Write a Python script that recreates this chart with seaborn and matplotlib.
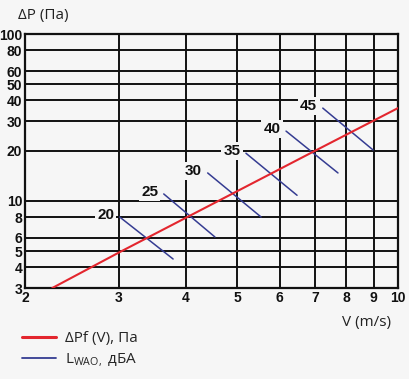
import numpy as np
import pandas as pd
import matplotlib
matplotlib.use('Agg')
import matplotlib.pyplot as plt
import seaborn as sns
from matplotlib.lines import Line2D

# Pressure drop line dP(V)
v_red = [2.25, 3.0, 7.0, 10.0]
dp_red = [3.0, 4.9, 20.0, 36.0]

# Noise level lines L_WAO (start, end)
levels = [20, 25, 30, 35, 40, 45]
v_start = [3.01, 3.64, 4.40, 5.19, 6.17, 7.23]
dp_start = [8.0, 11.0, 14.7, 19.3, 26.2, 36.0]
v_end = [3.79, 4.54, 5.54, 6.47, 7.72, 8.98]
dp_end = [4.48, 6.07, 8.0, 10.8, 14.7, 20.2]

x_ticks = [2, 3, 4, 5, 6, 7, 8, 9, 10]
y_ticks = [3, 4, 5, 6, 8, 10, 20, 30, 40, 50, 60, 80, 100]

sns.set_theme(style='white')
plt.rcParams['font.family'] = ['Liberation Sans', 'DejaVu Sans']
plt.rcParams['mathtext.fontset'] = 'custom'
plt.rcParams['mathtext.rm'] = 'Open Sans'

bg = '#f6f6f6'
red = '#e3262e'
blue = '#353c92'

fig = plt.figure(figsize=(4.09, 3.79), dpi=100, facecolor=bg)
ax = fig.add_axes([0.061, 0.240, 0.912, 0.670])
ax.set_facecolor(bg)
ax.set_xscale('log')
ax.set_yscale('log')
ax.set_xlim(2, 10)
ax.set_ylim(3, 100)

# grid
for x in x_ticks[1:-1]:
    ax.axvline(x, color='#111111', lw=1.4, zorder=1)
for y in y_ticks[1:-1]:
    ax.axhline(y, color='#111111', lw=1.4, zorder=1)
for s in ax.spines.values():
    s.set_color('#111111')
    s.set_linewidth(1.6)

# red line
red_df = pd.DataFrame({'V': v_red, 'dP': dp_red})
sns.lineplot(data=red_df, x='V', y='dP', color=red, lw=1.5, ax=ax,
             estimator=None, sort=False, zorder=4)

# blue lines
rows = []
for i, lv in enumerate(levels):
    rows.append({'level': lv, 'V': v_start[i], 'dP': dp_start[i]})
    rows.append({'level': lv, 'V': v_end[i], 'dP': dp_end[i]})
blue_df = pd.DataFrame(rows)
sns.lineplot(data=blue_df, x='V', y='dP', units='level', estimator=None,
             color=blue, lw=1.1, ax=ax, sort=False, zorder=3)

for i, lv in enumerate(levels):
    ax.annotate(str(lv), (v_start[i], dp_start[i]), xytext=(-4, 1.5),
                textcoords='offset points', ha='right', va='center',
                fontsize=11, fontweight='bold', color='#111111', zorder=5,
                bbox=dict(boxstyle='square,pad=0.15', fc=bg, ec='none'))

ax.set_xticks(x_ticks)
ax.set_xticklabels([str(t) for t in x_ticks])
ax.set_yticks(y_ticks)
ax.set_yticklabels([str(t) for t in y_ticks])
ax.minorticks_off()
ax.tick_params(length=0, labelsize=10, pad=2)
for lab in ax.get_xticklabels() + ax.get_yticklabels():
    lab.set_fontweight('bold')
    lab.set_color('#111111')
ax.set_xlabel('')
ax.set_ylabel('')

fig.text(0.044, 0.958, 'ΔP (Па)', fontsize=11, family='Open Sans',
         color='#222222', va='center')
fig.text(0.955, 0.148, 'V (m/s)', fontsize=11, family='Open Sans',
         color='#222222', va='center', ha='right')

handles = [Line2D([], [], color=red, lw=2.2), Line2D([], [], color=blue, lw=1.3)]
labels = ['ΔPf (V), Па', r'L$_{\mathrm{WAO,}}$ дБА']
fig.legend(handles, labels, loc='lower left', bbox_to_anchor=(0.02, -0.01),
           frameon=False, prop={'family': 'Open Sans', 'size': 11},
           handlelength=2.2, handletextpad=0.6, labelspacing=0.35)

fig.savefig('out.png', dpi=100, facecolor=bg)
